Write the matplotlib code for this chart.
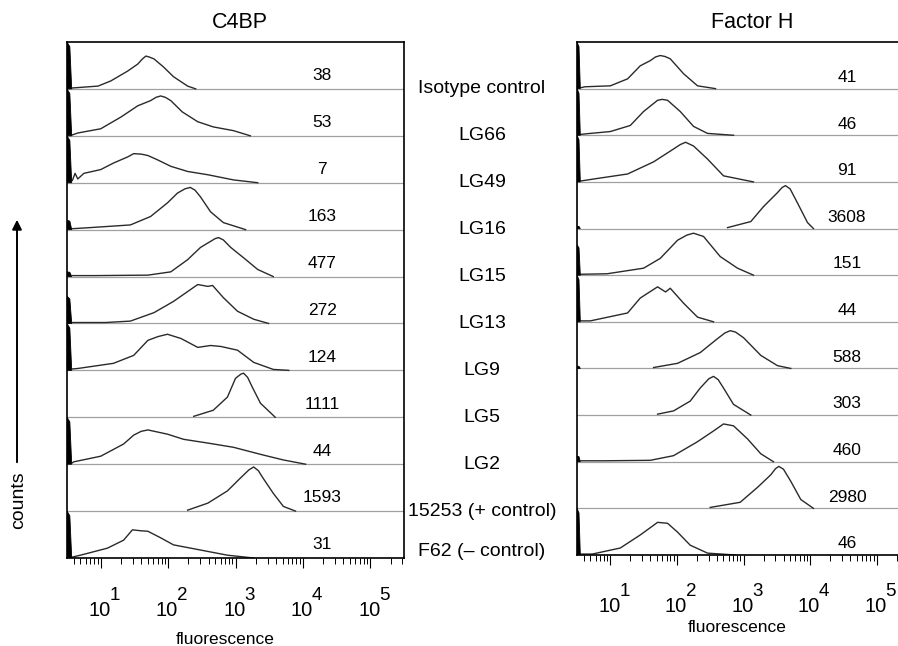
import numpy as np
import matplotlib
matplotlib.use('Agg')
import matplotlib.pyplot as plt
from matplotlib.patches import FancyArrowPatch

plt.rcParams['font.family'] = ['Liberation Sans', 'DejaVu Sans']

samples = ['Isotype control', 'LG66', 'LG49', 'LG16', 'LG15', 'LG13', 'LG9',
           'LG5', 'LG2', '15253 (+ control)', 'F62 (\u2013 control)']
mfi_c4bp = [38, 53, 7, 163, 477, 272, 124, 1111, 44, 1593, 31]
mfi_fh = [41, 46, 91, 3608, 151, 44, 588, 303, 460, 2980, 46]

# histogram outlines: log10(fluorescence) and counts (fraction of row height)
c4bp_logx = [
    [0.58, 0.96, 1.15, 1.40, 1.55, 1.62, 1.67, 1.72, 1.79, 1.93, 2.08, 2.29, 2.41],
    [0.58, 0.66, 1.0, 1.30, 1.55, 1.74, 1.82, 1.89, 1.96, 2.04, 2.21, 2.44, 2.67, 2.97, 3.22],
    [0.58, 0.62, 0.66, 0.75, 1.0, 1.19, 1.40, 1.49, 1.60, 1.70, 1.84, 2.04, 2.29, 2.59, 2.97, 3.33],
    [0.58, 0.81, 1.44, 1.74, 1.99, 2.14, 2.25, 2.33, 2.40, 2.48, 2.63, 2.82, 3.15],
    [0.58, 0.90, 1.70, 2.04, 2.29, 2.48, 2.63, 2.70, 2.75, 2.82, 2.93, 3.12, 3.33, 3.56],
    [0.58, 1.07, 1.44, 1.79, 2.08, 2.29, 2.44, 2.59, 2.66, 2.82, 3.03, 3.27, 3.49],
    [0.58, 0.66, 1.19, 1.49, 1.70, 1.85, 1.99, 2.19, 2.44, 2.63, 2.78, 3.03, 3.27, 3.56, 3.79],
    [2.38, 2.67, 2.88, 3.0, 3.08, 3.12, 3.18, 3.25, 3.37, 3.59],
    [0.58, 0.6, 1.0, 1.34, 1.49, 1.60, 1.70, 1.99, 2.23, 2.59, 2.97, 3.37, 3.71, 4.04],
    [2.29, 2.59, 2.88, 3.07, 3.20, 3.27, 3.34, 3.41, 3.56, 3.71, 3.89],
    [0.58, 0.70, 1.10, 1.34, 1.47, 1.60, 1.70, 1.89, 2.08, 2.48, 2.88, 3.27],
]
c4bp_counts = [
    [0.02, 0.06, 0.17, 0.38, 0.53, 0.64, 0.70, 0.68, 0.64, 0.47, 0.26, 0.06, 0.0],
    [0.02, 0.06, 0.15, 0.40, 0.64, 0.75, 0.82, 0.85, 0.82, 0.75, 0.51, 0.30, 0.19, 0.11, 0.0],
    [0.05, 0.20, 0.08, 0.20, 0.28, 0.42, 0.55, 0.62, 0.61, 0.58, 0.49, 0.35, 0.24, 0.17, 0.06, 0.0],
    [0.02, 0.04, 0.10, 0.28, 0.57, 0.78, 0.87, 0.90, 0.84, 0.70, 0.38, 0.15, 0.0],
    [0.02, 0.02, 0.03, 0.10, 0.36, 0.62, 0.75, 0.81, 0.83, 0.78, 0.62, 0.40, 0.15, 0.0],
    [0.02, 0.02, 0.05, 0.23, 0.47, 0.68, 0.83, 0.79, 0.81, 0.55, 0.26, 0.09, 0.0],
    [0.03, 0.04, 0.15, 0.32, 0.64, 0.72, 0.77, 0.68, 0.49, 0.53, 0.51, 0.43, 0.17, 0.02, 0.0],
    [0.02, 0.15, 0.43, 0.83, 0.92, 0.94, 0.85, 0.64, 0.30, 0.0],
    [0.03, 0.05, 0.17, 0.43, 0.62, 0.70, 0.73, 0.64, 0.53, 0.45, 0.36, 0.21, 0.09, 0.0],
    [0.02, 0.17, 0.43, 0.70, 0.88, 0.94, 0.86, 0.70, 0.38, 0.10, 0.0],
    [0.02, 0.06, 0.21, 0.38, 0.60, 0.58, 0.57, 0.43, 0.28, 0.17, 0.06, 0.0],
]
c4bp_spike = [1.0, 1.0, 1.0, 0.2, 0.1, 0.58, 1.0, 0.0, 1.0, 0.0, 1.0]

fh_logx = [
    [0.56, 0.62, 1.0, 1.26, 1.45, 1.60, 1.68, 1.75, 1.82, 1.90, 2.10, 2.31, 2.58],
    [0.56, 0.70, 1.0, 1.30, 1.50, 1.71, 1.78, 1.86, 2.05, 2.25, 2.46, 2.85],
    [0.56, 0.74, 1.26, 1.65, 1.90, 2.05, 2.13, 2.25, 2.46, 2.70, 3.15],
    [2.76, 3.11, 3.30, 3.51, 3.58, 3.63, 3.70, 3.81, 3.96, 4.05],
    [0.56, 0.95, 1.50, 1.75, 2.01, 2.15, 2.25, 2.40, 2.65, 2.91, 3.15],
    [0.56, 0.70, 1.26, 1.45, 1.71, 1.83, 1.90, 2.10, 2.31, 2.55],
    [1.65, 2.01, 2.35, 2.61, 2.72, 2.80, 2.88, 3.00, 3.26, 3.51, 3.71],
    [1.71, 1.95, 2.20, 2.35, 2.48, 2.55, 2.62, 2.70, 2.85, 3.11],
    [0.56, 0.89, 1.60, 1.95, 2.31, 2.55, 2.70, 2.85, 3.06, 3.26, 3.45],
    [2.50, 2.95, 3.21, 3.41, 3.48, 3.53, 3.60, 3.71, 3.86, 4.05],
    [0.56, 0.73, 1.15, 1.45, 1.71, 1.86, 2.01, 2.20, 2.46, 2.88],
]
fh_counts = [
    [0.02, 0.04, 0.06, 0.21, 0.49, 0.60, 0.68, 0.71, 0.69, 0.64, 0.32, 0.06, 0.0],
    [0.02, 0.04, 0.08, 0.21, 0.51, 0.75, 0.77, 0.75, 0.51, 0.19, 0.04, 0.0],
    [0.02, 0.06, 0.17, 0.43, 0.66, 0.80, 0.85, 0.77, 0.49, 0.13, 0.0],
    [0.02, 0.15, 0.47, 0.77, 0.88, 0.92, 0.85, 0.55, 0.13, 0.0],
    [0.02, 0.03, 0.15, 0.36, 0.75, 0.86, 0.90, 0.83, 0.40, 0.15, 0.0],
    [0.02, 0.02, 0.19, 0.51, 0.75, 0.64, 0.72, 0.40, 0.10, 0.0],
    [0.02, 0.11, 0.34, 0.64, 0.76, 0.81, 0.78, 0.66, 0.28, 0.06, 0.0],
    [0.02, 0.09, 0.30, 0.58, 0.78, 0.83, 0.76, 0.58, 0.23, 0.0],
    [0.02, 0.02, 0.03, 0.13, 0.43, 0.66, 0.81, 0.77, 0.49, 0.17, 0.0],
    [0.02, 0.13, 0.45, 0.72, 0.85, 0.90, 0.84, 0.58, 0.19, 0.0],
    [0.02, 0.02, 0.15, 0.43, 0.70, 0.68, 0.49, 0.21, 0.04, 0.0],
]
fh_spike = [1.0, 1.0, 1.0, 0.05, 0.65, 1.0, 0.05, 0.0, 0.12, 0.0, 1.0]

decades = [1, 2, 3, 4, 5]
W, H = 898, 646


def draw_panel(ax, logx, counts, spike, spike_w, mfi, num_x, num_dy, lab_dy):
    n = len(logx)
    for i in range(n):
        base = n - 1 - i
        ax.plot([10 ** 0.5, 10 ** 5.6], [base, base], color='#a0a0a0', lw=0.9, zorder=1)
        ax.plot(10 ** np.array(logx[i]), base + np.array(counts[i]),
                color='#2a2a2a', lw=1.0, zorder=2)
        if spike[i] > 0:  # lowest channel spike at the left edge
            sx = [10 ** 0.5, 10 ** 0.5, 10 ** (0.5 + spike_w * 0.6), 10 ** (0.5 + spike_w)]
            sy = [base, base + spike[i], base + spike[i] * 0.9, base]
            ax.fill(sx, sy, color='black', lw=0.6, zorder=3)
        ax.text(num_x, (base + num_dy) / n, str(mfi[i]), transform=ax.transAxes,
                ha='center', va='center', fontsize=12.5)
    ax.set_xscale('log')
    ax.set_xlim(10 ** 0.5, 10 ** 5.5)
    ax.set_ylim(0, n)
    ax.set_yticks([])
    ax.set_xticks([10 ** k for k in decades])
    ax.tick_params(axis='x', which='major', direction='out', length=7, width=0.8,
                   labelbottom=False)
    ax.tick_params(axis='x', which='minor', direction='out', length=4, width=0.7)
    for s in ax.spines.values():
        s.set_linewidth(1.2)
        s.set_color('black')
    # tick labels: 10 with a raised exponent
    for k in decades:
        ax.annotate('10', xy=(10 ** k, 0), xycoords=('data', 'axes fraction'),
                    xytext=(-1, -lab_dy), textcoords='offset pixels',
                    ha='center', va='center', fontsize=14.5)
        ax.annotate(str(k), xy=(10 ** k, 0), xycoords=('data', 'axes fraction'),
                    xytext=(9, -lab_dy + 15), textcoords='offset pixels',
                    ha='left', va='center', fontsize=13.5)


fig = plt.figure(figsize=(W / 100, H / 100), dpi=100)
ax1 = fig.add_axes([67 / W, 1 - 558 / H, 337 / W, 516 / H])
ax2 = fig.add_axes([577 / W, 1 - 555 / H, 333 / W, 513 / H])

draw_panel(ax1, c4bp_logx, c4bp_counts, c4bp_spike, 0.07, mfi_c4bp, 0.757, 0.28, 52)
draw_panel(ax2, fh_logx, fh_counts, fh_spike, 0.05, mfi_fh, 0.811, 0.24, 52)

# sample names between the panels
row_px = 516 / len(samples)
for i, name in enumerate(samples):
    y = 42 + (i + 1) * row_px
    if i == len(samples) - 1:
        y -= 6
    fig.text(482 / W, 1 - y / H, name, ha='center', va='center', fontsize=14)

fig.text(240 / W, 1 - 22 / H, 'C4BP', ha='center', va='center', fontsize=15.5)
fig.text(752 / W, 1 - 22 / H, 'Factor H', ha='center', va='center', fontsize=15.5)
fig.text(225 / W, 1 - 639 / H, 'fluorescence', ha='center', va='center', fontsize=12.5)
fig.text(737 / W, 1 - 627 / H, 'fluorescence', ha='center', va='center', fontsize=12.5)
fig.text(19 / W, 1 - 500 / H, 'counts', ha='center', va='center', rotation=90, fontsize=14)

arrow = FancyArrowPatch((17 / W, 1 - 465 / H), (17 / W, 1 - 217 / H),
                        transform=fig.transFigure, arrowstyle='-|>',
                        mutation_scale=14, lw=1.4, color='black')
fig.add_artist(arrow)

fig.savefig('out.png', dpi=100)
